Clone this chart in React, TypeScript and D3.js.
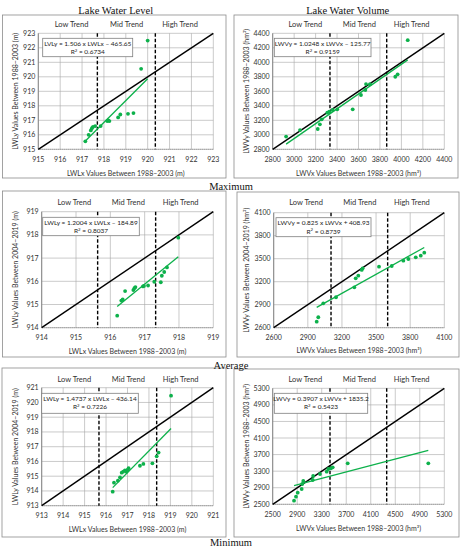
import * as d3 from 'd3';

// Lake water level, maximum (LWLx 1988-2003 vs LWLy 1988-2003)
const levelMaxX = [917.15, 917.3, 917.4, 917.45, 917.5, 917.6, 917.85, 918.15, 918.2, 918.25, 918.65, 918.75, 919.1, 919.35, 919.7, 920.0];
const levelMaxY = [915.55, 916.0, 916.3, 916.45, 916.55, 916.6, 916.6, 916.95, 917.0, 916.95, 917.2, 917.4, 917.45, 917.5, 920.55, 922.5];
const levelMaxTicks = [915, 916, 917, 918, 919, 920, 921, 922, 923];

// Lake water volume, maximum
const volumeMaxX = [2925, 3055, 3220, 3240, 3257, 3309, 3328, 3359, 3402, 3546, 3623, 3664, 3670, 3707, 3943, 3965, 4059];
const volumeMaxY = [2975, 3065, 3080, 3145, 3214, 3305, 3320, 3342, 3352, 3352, 3549, 3618, 3700, 3697, 3801, 3834, 4305];
const volumeMaxTicks = [2800, 3000, 3200, 3400, 3600, 3800, 4000, 4200, 4400];

// Lake water level, average
const levelAvgX = [916.2, 916.32, 916.36, 916.43, 916.67, 916.7, 916.73, 916.95, 916.98, 917.1, 917.28, 917.47, 917.5, 917.57, 917.65, 917.98];
const levelAvgY = [914.52, 915.17, 915.22, 915.58, 915.62, 915.7, 915.75, 915.78, 915.8, 915.82, 915.98, 915.96, 916.24, 916.4, 916.6, 917.88];
const levelAvgTicks = [914, 915, 916, 917, 918, 919];

// Lake water volume, average
const volumeAvgX = [2978, 2992, 3036, 3148, 3309, 3321, 3344, 3374, 3382, 3526, 3638, 3740, 3784, 3849, 3893, 3924];
const volumeAvgY = [2678, 2736, 2918, 2997, 3127, 3244, 3278, 3353, 3375, 3396, 3405, 3474, 3496, 3518, 3539, 3578];
const volumeAvgTicks = [2600, 2900, 3200, 3500, 3800, 4100];

// Lake water level, minimum
const levelMinX = [916.31, 916.37, 916.55, 916.65, 916.73, 916.8, 916.88, 916.95, 917.0, 917.05, 917.58, 917.74, 918.16, 918.36, 918.45, 919.03];
const levelMinY = [913.95, 914.56, 914.7, 914.92, 915.24, 915.31, 915.4, 915.3, 915.42, 915.54, 915.71, 915.83, 915.87, 916.35, 916.6, 920.46];
const levelMinTicks = [913, 914, 915, 916, 917, 918, 919, 920, 921];

// Lake water volume, minimum
const volumeMinX = [2848, 2880, 2908, 2973, 2983, 2999, 3153, 3160, 3272, 3381, 3407, 3451, 3479, 3724, 5039];
const volumeMinY = [2587, 2683, 2780, 2869, 2990, 3062, 3087, 3183, 3231, 3287, 3352, 3369, 3393, 3490, 3490];
const volumeMinTicks = [2500, 2900, 3300, 3700, 4100, 4500, 4900, 5300];

// trend split values (dashed lines)
const levelMaxCuts = [917.7, 920.35];
const volumeMaxCuts = [3334, 3863];
const levelAvgCuts = [915.63, 917.32];
const volumeAvgCuts = [3104, 3602];
const levelMinCuts = [915.67, 918.36];
const volumeMinCuts = [3435, 4360];

const trendNames = ['Low Trend', 'Mid Trend', 'High Trend'];
const rowNames = ['Maximum', 'Average', 'Minimum'];

const GREEN = '#0db14b';
const SANS = 'Lato, "Open Sans", sans-serif';
const SERIF = '"Liberation Serif", "DejaVu Serif", serif';

interface Panel {
  xs: number[];
  ys: number[];
  ticks: number[];
  cuts: number[];
  slope: number;
  intercept: number;
  eqn: string;
  r2: string;
  xTitle: string;
  yTitle: string;
  frame: [number, number, number, number];
  plot: { left: number; right: number; top: number; bottom: number };
  box: [number, number, number, number];
  yTitleX: number;
  xTitleY: number;
  trendY: number;
}

const panels: Panel[] = [
  {
    xs: levelMaxX, ys: levelMaxY, ticks: levelMaxTicks, cuts: levelMaxCuts,
    slope: 1.506, intercept: -465.65,
    eqn: 'LVLy = 1.506 x LWLx \u2013 465.65', r2: '0.6734',
    xTitle: 'LWLx Values Between 1988\u20132003 (m)',
    yTitle: 'LWLy Values Between 1988\u20132003 (m)',
    frame: [2.5, 15, 226, 178],
    plot: { left: 38.3, right: 213.3, top: 33.3, bottom: 149.3 },
    box: [42.7, 38.3, 132.7, 56.7], yTitleX: 15, xTitleY: 173, trendY: 24
  },
  {
    xs: volumeMaxX, ys: volumeMaxY, ticks: volumeMaxTicks, cuts: volumeMaxCuts,
    slope: 1.0248, intercept: -125.77,
    eqn: 'LWVy = 1.0248 x LWVx \u2013 125.77', r2: '0.9159',
    xTitle: 'LWVx Values Between 1988\u20132003 (hm\u00b3)',
    yTitle: 'LWVy Values Between 1988\u20132003 (hm\u00b3)',
    frame: [234, 15, 458, 178],
    plot: { left: 272.7, right: 444.3, top: 33.3, bottom: 149.3 },
    box: [274.3, 38.3, 371, 56.7], yTitleX: 246, xTitleY: 173, trendY: 24
  },
  {
    xs: levelAvgX, ys: levelAvgY, ticks: levelAvgTicks, cuts: levelAvgCuts,
    slope: 1.2004, intercept: -184.89,
    eqn: 'LWLy = 1.2004 x LWLx \u2013 184.89', r2: '0.8037',
    xTitle: 'LWLx Values Between 1988\u20132003 (m)',
    yTitle: 'LWLy Values Between 2004\u20132019 (m)',
    frame: [2.5, 191, 226, 357],
    plot: { left: 41.7, right: 213.3, top: 211.7, bottom: 327.7 },
    box: [42.7, 217.3, 139.3, 235.7], yTitleX: 15, xTitleY: 351, trendY: 202
  },
  {
    xs: volumeAvgX, ys: volumeAvgY, ticks: volumeAvgTicks, cuts: volumeAvgCuts,
    slope: 0.825, intercept: 408.93,
    eqn: 'LWVy = 0.825 x LWVx + 408.93', r2: '0.8739',
    xTitle: 'LWVx Values Between 1988\u20132003 (hm\u00b3)',
    yTitle: 'LWVy Values Between 2004\u20132019 (hm\u00b3)',
    frame: [237, 192, 459, 357],
    plot: { left: 273.7, right: 444.3, top: 212.7, bottom: 327.7 },
    box: [276, 217.7, 371, 236.7], yTitleX: 246, xTitleY: 350, trendY: 202
  },
  {
    xs: levelMinX, ys: levelMinY, ticks: levelMinTicks, cuts: levelMinCuts,
    slope: 1.4737, intercept: -436.14,
    eqn: 'LWLy = 1.4737 x LWLx \u2013 436.14', r2: '0.7226',
    xTitle: 'LWLx Values Between 1988\u20132003 (m)',
    yTitle: 'LWLy Values Between 2004\u20132019 (m)',
    frame: [2, 368, 226, 537],
    plot: { left: 41.7, right: 213.3, top: 387.7, bottom: 505.7 },
    box: [41.7, 393.3, 138.3, 413.3], yTitleX: 15, xTitleY: 529, trendY: 379
  },
  {
    xs: volumeMinX, ys: volumeMinY, ticks: volumeMinTicks, cuts: volumeMinCuts,
    slope: 0.3907, intercept: 1835.2,
    eqn: 'LWVy = 0.3907 x LWVx + 1835.2', r2: '0.5423',
    xTitle: 'LWVx Values Between 1988\u20132003 (hm\u00b3)',
    yTitle: 'LWVy Values Between 1988\u20132003 (hm\u00b3)',
    frame: [234, 369, 459, 537],
    plot: { left: 272.7, right: 444.3, top: 388.3, bottom: 504.3 },
    box: [274.3, 393.3, 367.7, 413.3], yTitleX: 246, xTitleY: 528, trendY: 379
  }
];

function ScatterPanel({ p }: { p: Panel }) {
  const lo = p.ticks[0];
  const hi = p.ticks[p.ticks.length - 1];
  const x = d3.scaleLinear().domain([lo, hi]).range([p.plot.left, p.plot.right]);
  const y = d3.scaleLinear().domain([lo, hi]).range([p.plot.bottom, p.plot.top]);
  const [fx0, fx1] = d3.extent(p.xs) as [number, number];
  const fitLine = d3
    .line<number>()
    .x(v => x(v))
    .y(v => y(p.slope * v + p.intercept));
  const diagLine = d3
    .line<number>()
    .x(v => x(v))
    .y(v => y(v));
  const [bx0, by0, bx1, by1] = p.box;
  const [fr0, ft0, fr1, fb1] = p.frame;
  const plotW = p.plot.right - p.plot.left;
  const midY = (p.plot.top + p.plot.bottom) / 2;
  const trendPos = [0.19, 0.505, 0.81];

  return (
    <g>
      <rect x={fr0} y={ft0} width={fr1 - fr0} height={fb1 - ft0} fill="#fff" stroke="#8c8c8c" strokeWidth={0.8} />
      {p.ticks.map(t => (
        <g key={'g' + t}>
          <line x1={x(t)} x2={x(t)} y1={p.plot.top} y2={p.plot.bottom} stroke="#a6a6a6" strokeWidth={0.6} />
          <line x1={p.plot.left} x2={p.plot.right} y1={y(t)} y2={y(t)} stroke="#a6a6a6" strokeWidth={0.6} />
        </g>
      ))}
      <line x1={p.plot.left} x2={p.plot.left} y1={p.plot.top} y2={p.plot.bottom} stroke="#7f7f7f" strokeWidth={0.9} />
      <line x1={p.plot.left} x2={p.plot.right} y1={p.plot.bottom} y2={p.plot.bottom} stroke="#7f7f7f" strokeWidth={0.9} strokeDasharray="1,1" />
      {p.cuts.map(c => (
        <line key={'c' + c} x1={x(c)} x2={x(c)} y1={p.plot.top} y2={p.plot.bottom} stroke="#000" strokeWidth={1.4} strokeDasharray="3.5,2" />
      ))}
      <path d={diagLine([lo, hi]) ?? ''} fill="none" stroke="#000" strokeWidth={1.4} />
      <path d={fitLine([fx0, fx1]) ?? ''} fill="none" stroke={GREEN} strokeWidth={1.3} />
      {p.xs.map((v, i) => (
        <circle key={'p' + i} cx={x(v)} cy={y(p.ys[i])} r={1.9} fill={GREEN} />
      ))}
      <rect x={bx0} y={by0} width={bx1 - bx0} height={by1 - by0} fill="#fff" stroke="#7f7f7f" strokeWidth={0.8} />
      <text x={(bx0 + bx1) / 2} y={by0 + 7.5} textAnchor="middle" fontSize={6.5} fontFamily={SANS} fill="#222">{p.eqn}</text>
      <text x={(bx0 + bx1) / 2} y={by0 + 15.8} textAnchor="middle" fontSize={6.5} fontFamily={SANS} fill="#222">
        R<tspan dy={-2.5} fontSize={4.3}>2</tspan><tspan dy={2.5}>{' = ' + p.r2}</tspan>
      </text>
      {p.ticks.map(t => (
        <g key={'t' + t}>
          <text x={p.plot.left - 3} y={y(t) + 2.5} textAnchor="end" fontSize={7} fontFamily={SANS} fill="#333">{t}</text>
          <text x={x(t)} y={p.plot.bottom + 12.5} textAnchor="middle" fontSize={7} fontFamily={SANS} fill="#333">{t}</text>
        </g>
      ))}
      {trendNames.map((name, i) => (
        <text key={name} x={p.plot.left + plotW * trendPos[i]} y={p.trendY + 2.7} textAnchor="middle" fontSize={7.5} fontFamily={SANS} fill="#333">{name}</text>
      ))}
      <text x={(p.plot.left + p.plot.right) / 2} y={p.xTitleY + 2.5} textAnchor="middle" fontSize={7} fontFamily={SANS} fill="#333">{p.xTitle}</text>
      <text transform={`translate(${p.yTitleX + 2.5},${midY}) rotate(-90)`} textAnchor="middle" fontSize={7} fontFamily={SANS} fill="#333">{p.yTitle}</text>
    </g>
  );
}

export default function App() {
  return (
    <svg width={462} height={550} viewBox="0 0 462 550" style={{ position: 'absolute', left: 0, top: 0, background: '#fff' }}>
      <rect width={462} height={550} fill="#fff" />
      {panels.map((p, i) => (
        <ScatterPanel key={i} p={p} />
      ))}
      <text x={115.7} y={13.5} textAnchor="middle" fontSize={10.5} fontFamily={SERIF} fill="#111">Lake Water Level</text>
      <text x={347.7} y={13.5} textAnchor="middle" fontSize={10.5} fontFamily={SERIF} fill="#111">Lake Water Volume</text>
      {rowNames.map((name, i) => (
        <text key={name} x={231} y={[189.5, 369, 546][i]} textAnchor="middle" fontSize={10.5} fontFamily={SERIF} fill="#111">{name}</text>
      ))}
    </svg>
  );
}
